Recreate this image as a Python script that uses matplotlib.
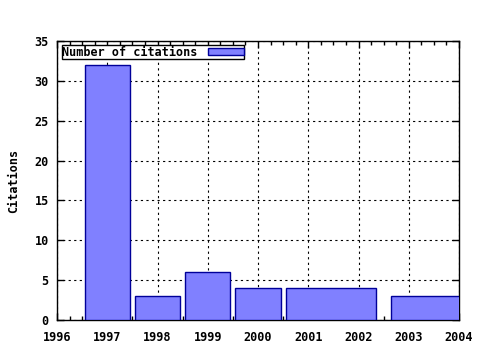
import matplotlib.pyplot as plt
from matplotlib.ticker import MultipleLocator

# Citation counts per period (bar edges in years, as drawn)
bar_start = [1996.55, 1997.55, 1998.55, 1999.55, 2000.55, 2002.65]
bar_end = [1997.45, 1998.45, 1999.45, 2000.45, 2002.35, 2004.45]
citations = [32, 3, 6, 4, 4, 3]
year_ticks = [1996, 1997, 1998, 1999, 2000, 2001, 2002, 2003, 2004]
y_ticks = [0, 5, 10, 15, 20, 25, 30, 35]

plt.rcParams["font.family"] = "DejaVu Sans Mono"
plt.rcParams["font.weight"] = "bold"
plt.rcParams["axes.labelweight"] = "bold"
plt.rcParams["font.size"] = 8.5

fig = plt.figure(figsize=(4.8, 3.5), dpi=100)
ax = fig.add_axes([57 / 480, 30 / 350, 402 / 480, 279 / 350])

widths = [e - s for s, e in zip(bar_start, bar_end)]
ax.bar(bar_start, citations, width=widths, align="edge",
       facecolor="#8080ff", edgecolor="#000099", linewidth=1.0,
       label="Number of citations", zorder=3)

ax.set_xlim(1996, 2004)
ax.set_ylim(0, 35)
ax.set_xticks(year_ticks)
ax.set_yticks(y_ticks)
ax.xaxis.set_minor_locator(MultipleLocator(0.25))
ax.tick_params(which="both", direction="in", top=True, right=True, width=1)
ax.tick_params(which="major", length=5)
ax.tick_params(which="minor", length=3)
ax.tick_params(axis="x", pad=8)
ax.tick_params(axis="y", pad=6)
ax.grid(True, which="major", color="black", linestyle=(0, (2, 3)),
        linewidth=0.8, zorder=0)
ax.set_axisbelow(True)
for sp in ax.spines.values():
    sp.set_linewidth(1)

ax.set_ylabel("Citations", labelpad=10)

leg = ax.legend(loc="upper left", bbox_to_anchor=(0.012, 0.985), frameon=True,
                fancybox=False, framealpha=1, edgecolor="black",
                markerfirst=False, handlelength=3.0, handleheight=0.6,
                borderpad=0.05, handletextpad=0.9, borderaxespad=0)
leg.get_frame().set_linewidth(1)

plt.savefig("out.png", dpi=100)
